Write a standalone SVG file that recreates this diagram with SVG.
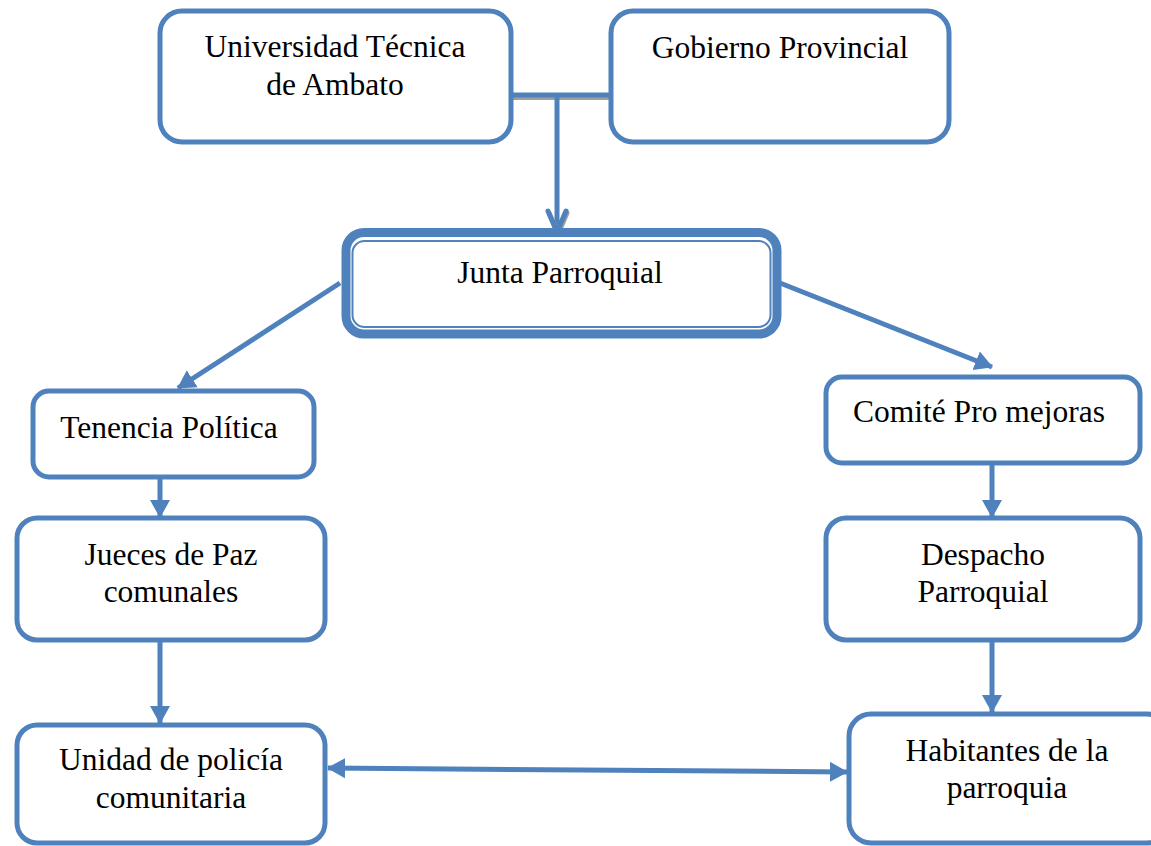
<svg xmlns="http://www.w3.org/2000/svg" width="1151" height="846" viewBox="0 0 1151 846">
<style>
.box{fill:#fff;stroke:#4f81bd;stroke-width:5}
.t{font-family:"Liberation Serif","Times New Roman",serif;font-size:31.5px;fill:#000;text-anchor:middle}
.c{stroke:#4f81bd;stroke-width:5;fill:none}
</style>
<defs>
<marker id="ah" markerUnits="userSpaceOnUse" markerWidth="22" markerHeight="22" refX="17" refY="11" orient="auto">
<path d="M0,1 L18,11 L0,21 z" fill="#4f81bd"/>
</marker>
<marker id="ahs" markerUnits="userSpaceOnUse" markerWidth="22" markerHeight="22" refX="17" refY="11" orient="auto-start-reverse">
<path d="M0,1 L18,11 L0,21 z" fill="#4f81bd"/>
</marker>
</defs>
<rect width="1151" height="846" fill="#fff"/>
<g id="connectors">
<line x1="511" y1="98" x2="611" y2="98" stroke="#9e9e9e" stroke-width="4"/>
<line x1="511" y1="95" x2="611" y2="95" class="c"/>
<line x1="557" y1="95" x2="557" y2="234" class="c"/>
<path d="M549,213 L558,234 L567,213" fill="none" stroke="#9e9e9e" stroke-width="5" stroke-linecap="round"/>
<path d="M548,211 L557,232 L566,211" fill="none" stroke="#4f81bd" stroke-width="5" stroke-linecap="round" stroke-linejoin="round"/>
<line x1="340" y1="283" x2="178" y2="388" class="c" marker-end="url(#ah)"/>
<line x1="780" y1="283" x2="992" y2="367" class="c" marker-end="url(#ah)"/>
<line x1="160" y1="477" x2="160" y2="517" class="c" marker-end="url(#ah)"/>
<line x1="160" y1="640" x2="160" y2="723" class="c" marker-end="url(#ah)"/>
<line x1="992" y1="463" x2="992" y2="517" class="c" marker-end="url(#ah)"/>
<line x1="992" y1="640" x2="992" y2="712" class="c" marker-end="url(#ah)"/>
<line x1="328" y1="768" x2="847" y2="772" class="c" marker-start="url(#ahs)" marker-end="url(#ah)"/>
</g>
<g id="uta">
<rect class="box" x="160" y="11" width="351" height="131" rx="22"/>
<text class="t" x="335" y="57">Universidad Técnica</text>
<text class="t" x="335" y="95">de Ambato</text>
</g>
<g id="gobierno">
<rect class="box" x="611" y="11" width="338" height="131" rx="22"/>
<text class="t" x="780" y="58">Gobierno Provincial</text>
</g>
<g id="junta">
<rect x="346" y="232.5" width="431" height="101.5" rx="18" fill="#fff" stroke="#4f81bd" stroke-width="9"/>
<rect x="352.5" y="241" width="418" height="86" rx="12" fill="none" stroke="#4f81bd" stroke-width="2"/>
<text class="t" x="560" y="283">Junta Parroquial</text>
</g>
<g id="tenencia">
<rect class="box" x="33" y="391" width="281" height="86" rx="16"/>
<text class="t" x="169" y="438">Tenencia Política</text>
</g>
<g id="jueces">
<rect class="box" x="17" y="518" width="308" height="122" rx="20"/>
<text class="t" x="171" y="565">Jueces de Paz</text>
<text class="t" x="171" y="602">comunales</text>
</g>
<g id="unidad">
<rect class="box" x="17" y="725" width="308" height="118" rx="20"/>
<text class="t" x="171" y="770">Unidad de policía</text>
<text class="t" x="171" y="808">comunitaria</text>
</g>
<g id="comite">
<rect class="box" x="826" y="377" width="314" height="86" rx="16"/>
<text class="t" x="979" y="422">Comité Pro mejoras</text>
</g>
<g id="despacho">
<rect class="box" x="826" y="518" width="314" height="122" rx="20"/>
<text class="t" x="983" y="565">Despacho</text>
<text class="t" x="983" y="602">Parroquial</text>
</g>
<g id="habitantes">
<rect class="box" x="849" y="714" width="320" height="129" rx="22"/>
<text class="t" x="1007" y="761">Habitantes de la</text>
<text class="t" x="1007" y="798">parroquia</text>
</g>
</svg>
